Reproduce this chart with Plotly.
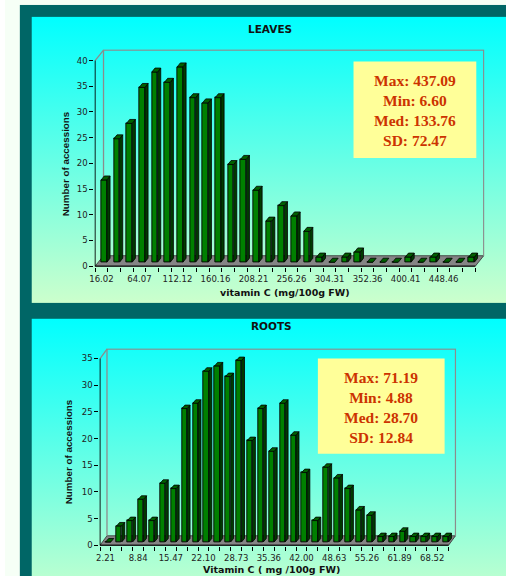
import base64
import plotly.graph_objects as go

W, H = 506, 580

# ---------------- data ----------------
leaves_counts = [16, 24, 27, 34, 37, 35, 38, 32, 31, 32, 19, 20, 14, 8, 11, 9, 6,
                 1, 0, 1, 2, 0, 0, 0, 1, 0, 1, 0, 0, 1]
leaves_tick_labels = ["16.02", "64.07", "112.12", "160.16", "208.21",
                      "256.26", "304.31", "352.36", "400.41", "448.46"]
leaves_stats = ["Max: 437.09", "Min: 6.60", "Med: 133.76", "SD: 72.47"]

roots_counts = [0, 3, 4, 8, 4, 11, 10, 25, 26, 32, 33, 31, 34, 19, 25, 17, 26, 20,
                13, 4, 14, 12, 10, 6, 5, 1, 1, 2, 1, 1, 1, 1]
roots_tick_labels = ["2.21", "8.84", "15.47", "22.10", "28.73", "35.36",
                     "42.00", "48.63", "55.26", "61.89", "68.52"]
roots_stats = ["Max: 71.19", "Min: 4.88", "Med: 28.70", "SD: 12.84"]

label_step = 3

# ---------------- style ----------------
SANS = "DejaVu Sans"
ARIAL = "Liberation Sans, Arial"
SERIF = "Liberation Serif, Times New Roman"
FRONT = "#008000"
SIDE = "#003a00"
TOP = "#006000"
STAT_COLOR = "#CC3300"

# background (white strip, teal frame, two gradient panels)
svg = f"""<svg xmlns='http://www.w3.org/2000/svg' width='{W}' height='{H}'>
<defs><linearGradient id='g' x1='0' y1='0' x2='0' y2='1'>
<stop offset='0' stop-color='#00FFFF'/><stop offset='1' stop-color='#CCFFCC'/>
</linearGradient></defs>
<rect width='{W}' height='{H}' fill='#F6FFF6'/>
<rect x='15' y='5' width='{W-15}' height='{H-5}' fill='#006666'/>
<rect x='27' y='17' width='{W-27}' height='288' fill='url(#g)'/>
<rect x='27' y='321' width='{W-27}' height='288' fill='url(#g)'/>
</svg>"""
bg_uri = "data:image/svg+xml;base64," + base64.b64encode(svg.encode()).decode()


def px(x):
    return x / W


def py(y):
    return 1 - y / H


fig = go.Figure()
shapes = []
annotations = []


def note(text, x, y, font, angle=0):
    annotations.append(dict(text=text, x=px(x), y=py(y), xref="paper", yref="paper",
                            xanchor="center", yanchor="middle", textangle=angle,
                            showarrow=False, font=font))


def build_panel(sfx, counts, tick_labels, g):
    xa = "x" + sfx
    ya = "y" + sfx
    n = len(counts)
    cat, unit, ymax = g["cat"], g["unit"], g["ymax"]
    dx, dy = g["depth"]
    pad = 0.8
    dxu, dyu = dx / cat, dy / unit
    sxu, syu = g["shift"][0] / cat, g["shift"][1] / unit
    bwu = g["bw"] / cat
    cxu, cyu = g["cap"][0] / cat, g["cap"][1] / unit

    xr = [-0.5 - pad / cat, n - 0.5 + (dx + pad) / cat]
    yr = [-pad / unit, ymax + (dy + pad) / unit]
    xdom = [px(g["x0"] - pad), px(g["x0"] + n * cat + dx + pad)]
    ydom = [py(g["y0"] + pad), py(g["y0"] - ymax * unit - dy - pad)]

    # floor and walls
    L, R = -0.5, n - 0.5
    shapes.append(dict(type="path", xref=xa, yref=ya, layer="below",
                       path=f"M{L},0 L{R},0 L{R+dxu},{dyu} L{L+dxu},{dyu} Z",
                       fillcolor="#858585", line=dict(color="#303030", width=0.8)))
    shapes.append(dict(type="path", xref=xa, yref=ya, layer="below",
                       path=f"M{L+dxu},{dyu} L{L+dxu},{ymax+dyu} L{R+dxu},{ymax+dyu} L{R+dxu},{dyu}",
                       line=dict(color="#8c8c8c", width=1.3)))
    shapes.append(dict(type="line", xref=xa, yref=ya, layer="below",
                       x0=L, y0=ymax, x1=L + dxu, y1=ymax + dyu,
                       line=dict(color="#8c8c8c", width=1.3)))
    shapes.append(dict(type="line", xref=xa, yref=ya, layer="above",
                       x0=L, y0=0, x1=L, y1=ymax, line=dict(color="black", width=1)))
    shapes.append(dict(type="line", xref=xa, yref=ya, layer="above",
                       x0=L, y0=0, x1=R, y1=0, line=dict(color="black", width=1)))

    # bar faces
    xs = [i + sxu for i in range(n)]
    fig.add_trace(go.Bar(x=xs, y=counts, base=syu, width=bwu, xaxis=xa, yaxis=ya,
                         marker=dict(color=FRONT, line=dict(color="black", width=0.9)),
                         hoverinfo="skip", showlegend=False))
    side_x, side_y, top_x, top_y = [], [], [], []
    for xc, v in zip(xs, counts):
        x0, x1 = xc - bwu / 2, xc + bwu / 2
        y0, y1 = syu, syu + v
        if v > 0:
            side_x += [x1, x1 + cxu, x1 + cxu, x1, x1, None]
            side_y += [y0, y0 + cyu, y1 + cyu, y1, y0, None]
        top_x += [x0, x1, x1 + cxu, x0 + cxu, x0, None]
        top_y += [y1, y1, y1 + cyu, y1 + cyu, y1, None]
    fig.add_trace(go.Scatter(x=side_x, y=side_y, xaxis=xa, yaxis=ya, mode="lines",
                             fill="toself", fillcolor=SIDE,
                             line=dict(color="black", width=0.8),
                             hoverinfo="skip", showlegend=False))
    fig.add_trace(go.Scatter(x=top_x, y=top_y, xaxis=xa, yaxis=ya, mode="lines",
                             fill="toself", fillcolor=TOP,
                             line=dict(color="black", width=0.8),
                             hoverinfo="skip", showlegend=False))

    axis_x = dict(domain=xdom, range=xr, anchor=ya, fixedrange=True,
                  showgrid=False, zeroline=False, showline=False,
                  tickmode="array", tickvals=list(range(0, n, label_step))[:len(tick_labels)],
                  ticktext=tick_labels, ticks="outside", ticklen=4,
                  tickcolor="rgba(0,0,0,0)",
                  tickfont=dict(family=SANS, size=8.5, color="#222222"),
                  minor=dict(tickmode="linear", tick0=-0.5, dtick=1, ticks="outside",
                             ticklen=4, tickcolor="black", tickwidth=1, showgrid=False))
    axis_y = dict(domain=ydom, range=yr, anchor=xa, fixedrange=True,
                  showgrid=False, zeroline=False, showline=False,
                  tickmode="array", tickvals=list(range(0, ymax + 1, 5)),
                  ticks="outside", ticklen=4, tickcolor="black", tickwidth=1,
                  tickfont=dict(family=SANS, size=8.5, color="#222222"))
    fig.update_layout({"xaxis" + sfx: axis_x, "yaxis" + sfx: axis_y})

    # titles
    note("<b>" + g["title"] + "</b>", *g["title_xy"],
         dict(family=SANS, size=10.5, color="#111111"))
    note("<b>" + g["xtitle"] + "</b>", *g["xtitle_xy"],
         dict(family=SANS, size=9.5, color="#111111"))
    note("<b>Number of accessions</b>", *g["ytitle_xy"],
         dict(family=ARIAL, size=9.8, color="#111111"), angle=-90)
    # stats box
    bx0, by0, bx1, by1 = g["box"]
    shapes.append(dict(type="rect", xref="paper", yref="paper", layer="above",
                       x0=px(bx0), x1=px(bx1), y0=py(by1), y1=py(by0),
                       fillcolor="#FFFF99", line=dict(width=0)))
    note("<br>".join("<b>" + s + "</b>" for s in g["stats"]),
         (bx0 + bx1) / 2, (by0 + by1) / 2 + 1,
         dict(family=SERIF, size=15.5, color=STAT_COLOR))


build_panel("", leaves_counts, leaves_tick_labels, dict(
    x0=91, cat=12.8, y0=268, unit=207 / 40, ymax=40, depth=(8.5, 10.5),
    shift=(2.6, 4.0), bw=5.8, cap=(3.2, 4.0),
    title="LEAVES", title_xy=(268, 29),
    xtitle="vitamin C (mg/100g FW)", xtitle_xy=(283, 295),
    ytitle_xy=(61, 165), box=(352, 62, 476, 159), stats=leaves_stats))

build_panel("2", roots_counts, roots_tick_labels, dict(
    x0=96, cat=11.0, y0=549, unit=188 / 35, ymax=35, depth=(7.0, 9.5),
    shift=(2.8, 3.3), bw=5.2, cap=(3.0, 3.5),
    title="ROOTS", title_xy=(269, 328),
    xtitle="Vitamin C ( mg /100g FW)", xtitle_xy=(269, 573),
    ytitle_xy=(64, 455), box=(316, 361, 444, 457), stats=roots_stats))

fig.update_layout(
    width=W, height=H, margin=dict(l=0, r=0, t=0, b=0),
    paper_bgcolor="white", plot_bgcolor="rgba(0,0,0,0)",
    showlegend=False, bargap=0,
    shapes=shapes, annotations=annotations,
    images=[dict(source=bg_uri, xref="paper", yref="paper", x=0, y=1,
                 sizex=1, sizey=1, sizing="stretch", xanchor="left", yanchor="top",
                 layer="below")],
)

fig.write_html("out.html", config={"displayModeBar": False},
               post_script="document.body.style.margin='0';")
